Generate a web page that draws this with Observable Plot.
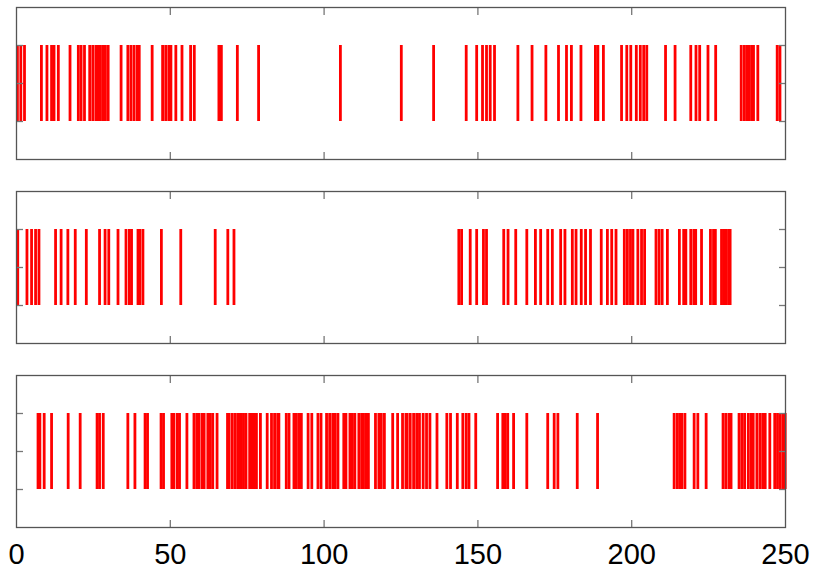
<!DOCTYPE html>
<html><head><meta charset="utf-8">
<script src="https://cdn.jsdelivr.net/npm/d3@7"></script>
<script src="https://cdn.jsdelivr.net/npm/@observablehq/plot@0.6"></script>
<style>body{margin:0;background:#fff} svg{display:block}</style>
</head><body><div id="chart"></div>
<script>
const spikes1 = [0.3, 1.4, 2.6, 8.1, 9.9, 11.4, 12.2, 13.6, 17.4, 20.1, 21.0, 22.1, 23.8, 24.8, 25.8, 26.6, 27.2, 28.0, 28.9, 29.8, 34.0, 36.2, 37.2, 38.2, 39.2, 39.9, 44.1, 47.5, 48.5, 49.5, 50.2, 51.8, 53.8, 56.6, 57.8, 65.8, 66.6, 71.8, 78.7, 105.3, 125.1, 135.6, 146.2, 149.6, 151.5, 152.8, 154.0, 155.4, 163.0, 167.6, 172.1, 176.2, 178.8, 180.4, 183.5, 188.2, 189.0, 190.8, 196.7, 198.4, 199.7, 201.5, 202.8, 203.9, 204.9, 211.0, 214.1, 219.2, 220.9, 222.1, 224.8, 227.3, 235.6, 236.6, 237.4, 238.2, 239.0, 239.6, 241.0, 247.3, 248.2];
const spikes2 = [0.4, 3.4, 4.9, 6.2, 7.3, 12.7, 14.5, 16.7, 19.1, 22.7, 27.0, 28.8, 30.0, 33.0, 35.6, 36.7, 37.4, 39.5, 40.1, 41.1, 47.1, 53.4, 64.6, 68.7, 70.7, 143.8, 144.7, 147.5, 149.6, 151.8, 152.8, 158.4, 159.8, 162.3, 165.9, 168.7, 170.4, 172.7, 174.2, 176.9, 178.3, 180.7, 181.9, 183.6, 185.0, 186.6, 190.1, 192.1, 193.5, 194.9, 197.6, 198.6, 199.6, 200.4, 202.0, 203.2, 204.2, 207.9, 208.9, 209.9, 211.6, 215.5, 216.9, 217.6, 219.2, 220.2, 220.8, 222.7, 225.6, 226.6, 227.2, 229.2, 229.9, 230.7, 231.5, 232.0];
const spikes3 = [7.0, 7.6, 9.0, 11.4, 16.8, 20.7, 26.2, 27.0, 28.2, 36.2, 38.5, 41.8, 42.6, 47.0, 47.8, 50.5, 51.2, 52.3, 53.0, 55.4, 57.7, 58.6, 59.3, 60.3, 61.0, 62.2, 63.0, 63.8, 65.2, 68.6, 69.1, 70.1, 71.0, 71.9, 72.6, 73.1, 73.8, 74.6, 75.8, 76.6, 77.3, 78.0, 79.3, 81.5, 82.9, 83.9, 84.9, 85.3, 87.7, 88.6, 90.2, 91.0, 91.9, 92.6, 94.8, 96.0, 98.0, 99.0, 100.8, 101.8, 102.8, 103.6, 104.5, 106.4, 107.1, 108.4, 109.2, 110.0, 111.3, 112.2, 112.8, 113.6, 114.4, 116.7, 117.8, 118.6, 119.6, 122.3, 123.9, 125.5, 126.6, 127.0, 128.0, 129.1, 130.1, 131.0, 132.2, 133.3, 134.4, 136.7, 139.9, 141.1, 143.3, 145.1, 146.2, 147.1, 149.3, 156.4, 158.1, 158.9, 159.7, 161.6, 165.9, 172.7, 174.8, 176.0, 182.3, 188.9, 213.8, 214.8, 215.6, 216.3, 217.3, 220.3, 221.5, 224.2, 229.7, 230.6, 231.6, 232.3, 234.9, 235.8, 236.7, 237.9, 238.8, 239.5, 240.7, 241.7, 242.6, 243.4, 244.9, 246.5, 247.4, 248.3, 249.2, 249.9];
const trainNames = ["train 1", "train 2", "train 3"];
const xTickLabels = [0, 50, 100, 150, 200, 250];
const innerXTicks = [50, 100, 150, 200];
const yTicks = [0, 0.5, 1];

const data = [spikes1, spikes2, spikes3].flatMap((s, i) => s.map(t => ({t, train: trainNames[i]})));

const tickStyle = {stroke: "#777", strokeWidth: 1.3, fill: "none", label: null, facetAnchor: null, tickSize: -7};

const chart = Plot.plot({
  width: 813, height: 570,
  marginLeft: 16, marginRight: 28, marginTop: 6, marginBottom: 42,
  style: {fontFamily: "'Liberation Sans', Arial, sans-serif", background: "white", color: "black"},
  x: {domain: [0, 250]},
  y: {domain: [-0.5, 1.5]},
  fy: {domain: trainNames, paddingInner: 0.173, paddingOuter: 0, axis: null},
  marks: [
    Plot.ruleX(data, {x: "t", y1: 0, y2: 1, fy: "train", stroke: "red", strokeWidth: 2.8}),
    Plot.axisX(innerXTicks, {anchor: "bottom", ...tickStyle}),
    Plot.axisX(innerXTicks, {anchor: "top", ...tickStyle}),
    Plot.axisY(yTicks, {anchor: "left", ...tickStyle}),
    Plot.axisY(yTicks, {anchor: "right", ...tickStyle}),
    Plot.axisX(xTickLabels, {anchor: "bottom", tickSize: 0, tickPadding: 16, fontSize: 29, label: null, fill: "black"}),
    Plot.frame({stroke: "#555", strokeWidth: 1.3})
  ]
});
document.getElementById("chart").appendChild(chart);
</script>
</body></html>
